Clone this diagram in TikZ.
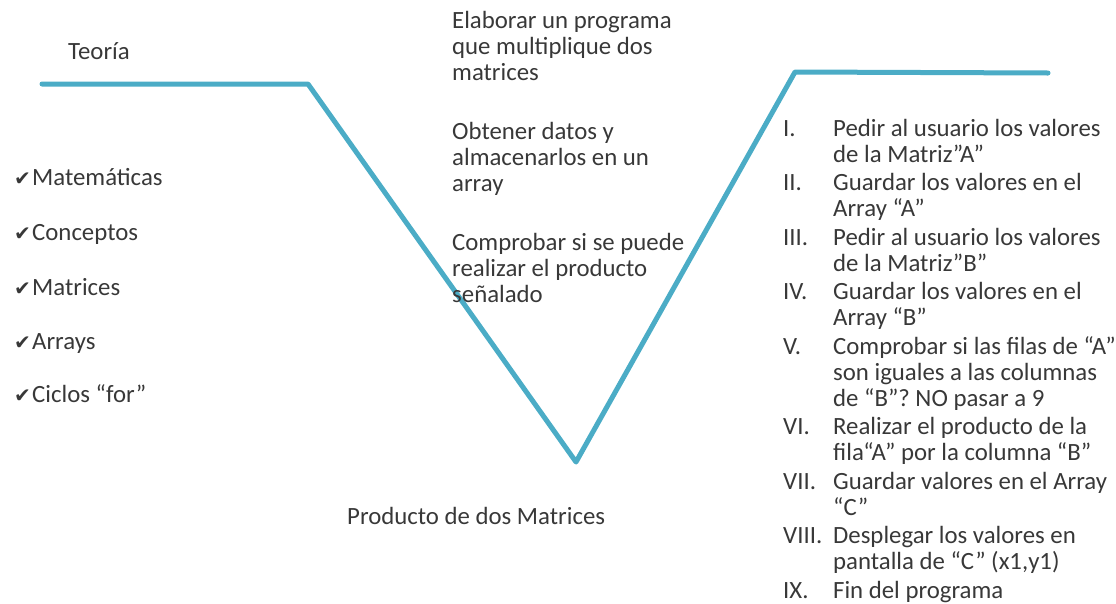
\documentclass[tikz,border=0pt]{standalone}
\usepackage{fontspec}
\setmainfont{Carlito}
\newfontfamily\symfont{DejaVu Sans}
\usetikzlibrary{positioning}
\definecolor{veeblue}{HTML}{4BACC6}
\definecolor{textgray}{HTML}{383838}
\newcommand{\chk}{\makebox[18pt][l]{\symfont\fontsize{20}{20}\selectfont ✔}}
\tikzset{
  every node/.style={
    font=\fontsize{24.8}{26}\selectfont,
    text=textgray,
    inner sep=0pt
  },
  title text/.style={
    anchor=base west
  },
  check item/.style={
    anchor=base west
  },
  block text/.style={
    anchor=north west,
    align=left
  },
  vee line/.style={
    draw=veeblue,
    line width=5pt,
    line join=round,
    line cap=round
  }
}

\begin{document}
\begin{tikzpicture}[x=1pt,y=-1pt]
    \useasboundingbox (0,0) rectangle (1116,603);
    % the V line
    \coordinate (vstart) at (42,84);
    \coordinate (vleft) at (308,84);
    \coordinate (vbottom) at (576,462);
    \coordinate (vright) at (795,72);
    \coordinate (vend) at (1048,73);
    \draw [vee line] (vstart) -- (vleft) -- (vbottom) -- (vright) -- (vend);

    \node [title text] (teoria) at (68,59) {Teoría};
    \node [title text] (producto) at (347,524) {Producto de dos Matrices};

    % left column
    \node [check item] (matematicas) at (14,185) {\chk Matemáticas};
    \node [check item] (conceptos) at (14,240) {\chk Conceptos};
    \node [check item] (matrices) at (14,295) {\chk Matrices};
    \node [check item] (arrays) at (14,349) {\chk Arrays};
    \node [check item] (ciclos) at (14,402) {\chk Ciclos “for”};

    % middle column
    \node [block text] (objetivo) at (452,11) {
      Elaborar un programa\\que multiplique dos\\matrices
    };
    \node [block text] (datos) at (452,122) {
      Obtener datos y\\almacenarlos en un\\array
    };
    \node [block text] (comprobar) at (452,233) {
      Comprobar si se puede\\realizar el producto\\señalado
    };

    % right column
    \node [anchor=north west] (pasos) at (783,118) {
      \begin{tabular}{@{}p{50pt}@{}l@{}}
        I.    & Pedir al usuario los valores\\
              & de la Matriz”A”\\[2.5pt]
        II.   & Guardar los valores en el\\
              & Array “A”\\[2.5pt]
        III.  & Pedir al usuario los valores\\
              & de la Matriz”B”\\[2.5pt]
        IV.   & Guardar los valores en el\\
              & Array “B”\\[2.5pt]
        V.    & Comprobar si las filas de “A”\\
              & son iguales a las columnas\\
              & de “B”? NO pasar a 9\\[2.5pt]
        VI.   & Realizar el producto de la\\
              & fila“A” por la columna “B”\\[2.5pt]
        VII.  & Guardar valores en el Array\\
              & “C”\\[2.5pt]
        VIII. & Desplegar los valores en\\
              & pantalla de “C” (x1,y1)\\[2.5pt]
        IX.   & Fin del programa
      \end{tabular}
    };
  \end{tikzpicture}
\end{document}
